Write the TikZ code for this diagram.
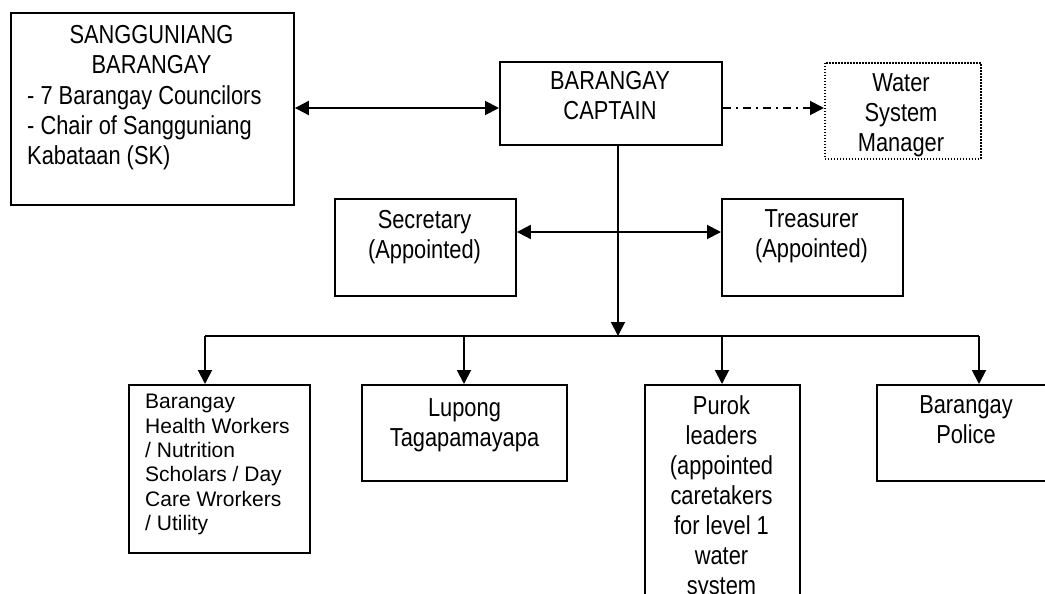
\documentclass[tikz,border=0pt]{standalone}
\usepackage{fontspec}
\setmainfont{Liberation Sans}
\newfontfamily\narrowsans{Liberation Sans}[FakeStretch=0.84]
\usetikzlibrary{arrows.meta}
\begin{document}
\begin{tikzpicture}[x=1pt,y=-1pt,
  orgbox/.style={draw, line width=1.9pt, inner sep=0pt, anchor=north west},
  sized/.style 2 args={minimum width=#1, minimum height=#2},
  dotbox/.style={orgbox, line width=1.9pt, dash pattern=on 1.5pt off 1.5pt},
  lbl/.style={inner sep=0pt, anchor=north, align=center,
    font=\narrowsans\fontsize{26}{30}\selectfont},
  plainlbl/.style={inner sep=0pt, anchor=north west, align=left,
    font=\fontsize{21}{24.4}\selectfont},
  link/.style={line width=1.9pt},
  tip/.style={-{Triangle[length=14pt,width=14pt]}},
  both/.style={{Triangle[length=14pt,width=14pt]}-{Triangle[length=14pt,width=14pt]}},
  dashdot/.style={link, dash pattern=on 8pt off 5pt on 2pt off 5pt}
]
\clip (0,0) rectangle (1045,594);
\fill[white] (0,0) rectangle (1045,594);

% boxes
\node[orgbox, sized={283}{192}] (sb) at (10,12) {};
\node[orgbox, sized={222}{83}] (cap) at (499,61) {};
\node[dotbox, sized={156}{96}] (water) at (824,62) {};
\node[orgbox, sized={181}{97}] (sec) at (334,198) {};
\node[orgbox, sized={181}{97}] (tre) at (721,198) {};
\node[orgbox, sized={181}{168}] (health) at (128,384) {};
\node[orgbox, sized={205}{96}] (lupong) at (361,384) {};
\node[orgbox, sized={155}{250}] (purok) at (644,384) {};
\node[orgbox, sized={180}{96}] (police) at (876,384) {};

% texts
\node[lbl] (sbt1) at (151.5,25) {SANGGUNIANG\\BARANGAY};
\node[lbl, anchor=north west, align=left] (sbt2) at (27,85)
  {- 7 Barangay Councilors\\- Chair of Sangguniang\\Kabataan (SK)};
\node[lbl] (capt) at (610,71) {BARANGAY\\CAPTAIN};
\node[lbl] (watert) at (901,73) {Water\\System\\Manager};
\node[lbl] (sect) at (424.5,210) {Secretary\\(Appointed)};
\node[lbl] (tret) at (811.5,209) {Treasurer\\(Appointed)};
\node[plainlbl] (healtht) at (145,394) {Barangay\\Health Workers\\/ Nutrition\\Scholars / Day\\Care Wrorkers\\/ Utility};
\node[lbl] (lupongt) at (464.5,398) {Lupong\\Tagapamayapa};
\node[lbl] (purokt) at (721.5,395) {Purok\\leaders\\(appointed\\caretakers\\for level 1\\water\\system};
\node[lbl] (policet) at (966,395) {Barangay\\Police};

% junction points
\coordinate (top) at (618,108);
\coordinate (mid) at (618,232);
\coordinate (bus) at (618,336);
\coordinate (b1) at (205,336);
\coordinate (b2) at (464,336);
\coordinate (b3) at (722,336);
\coordinate (b4) at (979,336);

% connectors
\draw[link, both] (sb.east |- top) -- (cap.west |- top);
\draw[dashdot, tip] (cap.east |- top) -- (water.west |- top);
\draw[link, both] (sec.east |- mid) -- (tre.west |- mid);
\draw[link, tip] (cap.south -| top) -- (bus);
\draw[link] (b1) -- (b4);
\draw[link, tip] (b1) -- (b1 |- health.north);
\draw[link, tip] (b2) -- (b2 |- lupong.north);
\draw[link, tip] (b3) -- (b3 |- purok.north);
\draw[link, tip] (b4) -- (b4 |- police.north);
\end{tikzpicture}
\end{document}
